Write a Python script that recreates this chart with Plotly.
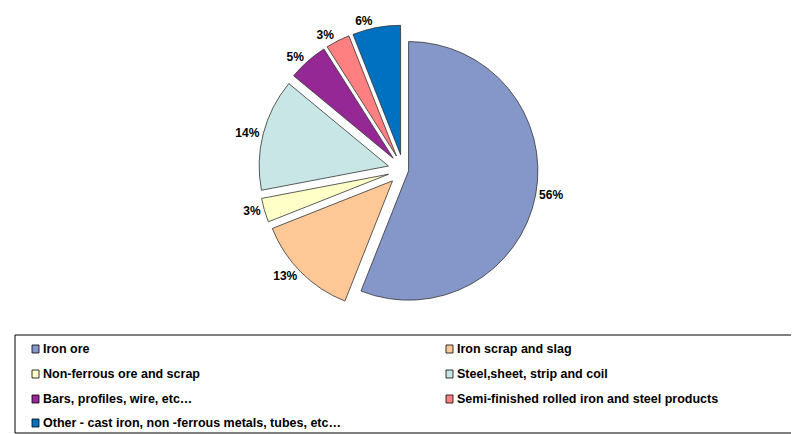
import plotly.graph_objects as go

labels = ["Iron ore", "Iron scrap and slag", "Non-ferrous ore and scrap",
          "Steel,sheet, strip and coil", "Bars, profiles, wire, etc…",
          "Semi-finished rolled iron and steel products",
          "Other - cast iron, non -ferrous metals, tubes, etc…"]
values = [56, 13, 3, 14, 5, 3, 6]
colors = ["#8497C8", "#FFC896", "#FFFFC8", "#C8E6E6", "#962896", "#FF8080", "#0070C0"]
pulls = [0.04, 0.12, 0.12, 0.12, 0.12, 0.12, 0.12]

W, H = 791, 426
OFF = 8
fig = go.Figure(go.Pie(
    labels=labels, values=values, sort=False, direction="clockwise", rotation=0,
    marker=dict(colors=colors, line=dict(color="#333333", width=0.8)),
    pull=pulls, textinfo="percent", textposition="outside", automargin=False,
    texttemplate="<b>%{value}%</b>", showlegend=False,
    textfont=dict(family="Arial", size=12, color="black"),
    domain=dict(x=[0.3, 0.7], y=[0.28, 0.96]),
))

def px(x): return (x - OFF) / W
def py(y): return 1 - (y - OFF) / H

shapes = [dict(type="rect", xref="paper", yref="paper", x0=px(15), x1=px(798),
               y0=py(433), y1=py(335), line=dict(color="black", width=1))]
annotations = []
rows = [349, 374, 399, 423]
cols = [32, 446]
for i, (lab, c) in enumerate(zip(labels, colors)):
    x = cols[i % 2]; y = rows[i // 2]
    shapes.append(dict(type="rect", xref="paper", yref="paper",
                       x0=px(x), x1=px(x + 7), y0=py(y + 4), y1=py(y - 4),
                       fillcolor=c, line=dict(color="black", width=0.8)))
    annotations.append(dict(text="<b>" + lab + "</b>", xref="paper", yref="paper",
                            x=px(x + 9), y=py(y), xanchor="left", yanchor="middle",
                            showarrow=False, font=dict(family="Arial", size=12.5, color="black")))

fig.update_layout(
    width=W, height=H, margin=dict(l=0, r=0, t=0, b=0),
    paper_bgcolor="white", plot_bgcolor="white",
    font=dict(family="Arial", size=12, color="black"),
    shapes=shapes, annotations=annotations,
)
fig.write_html("out.html")
